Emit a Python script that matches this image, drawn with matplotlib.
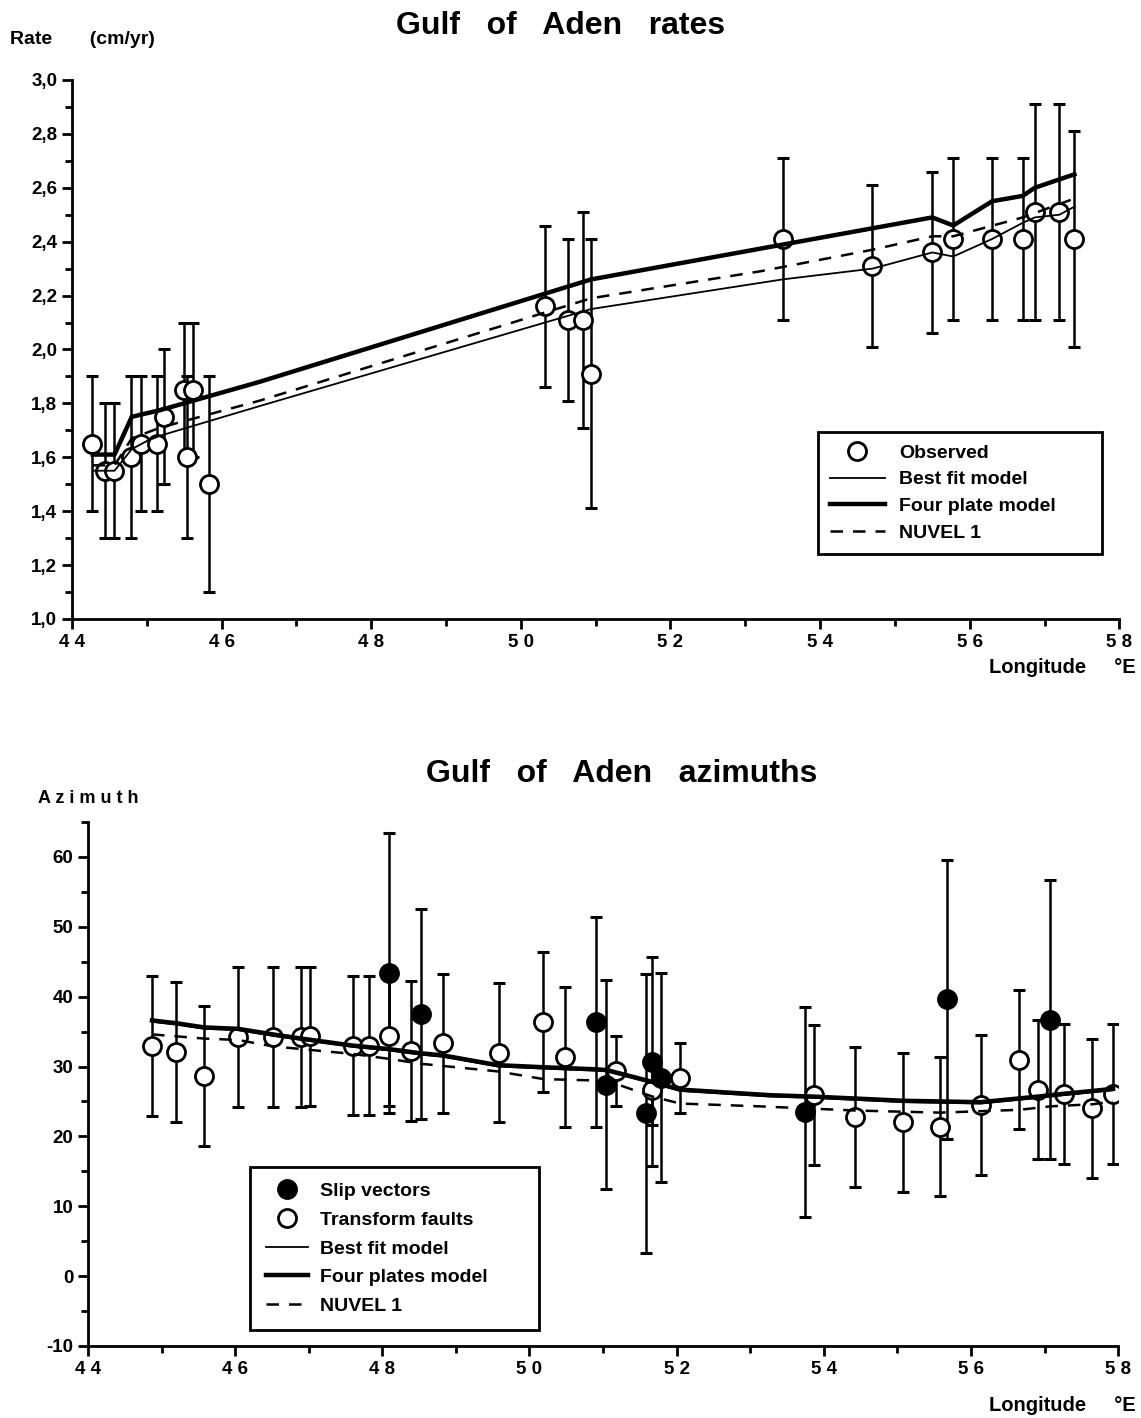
import matplotlib
matplotlib.use("Agg")
import matplotlib.pyplot as plt
from matplotlib.lines import Line2D
from matplotlib.ticker import MultipleLocator

plt.rcParams['font.family'] = ['Liberation Sans', 'DejaVu Sans']
plt.rcParams['font.weight'] = 'bold'

# --- rates (top panel) ---
obs_lon = [44.27, 44.44, 44.56, 44.79, 44.92, 45.14, 45.23, 45.50, 45.54, 45.62, 45.83,
           50.32, 50.63, 50.83, 50.94,
           53.50, 54.70, 55.50, 55.78, 56.30, 56.71, 56.87, 57.20, 57.40]
obs_rate = [1.65, 1.55, 1.55, 1.60, 1.65, 1.65, 1.75, 1.85, 1.60, 1.85, 1.50,
            2.16, 2.11, 2.11, 1.91,
            2.41, 2.31, 2.36, 2.41, 2.41, 2.41, 2.51, 2.51, 2.41]
obs_err = [0.25, 0.25, 0.25, 0.30, 0.25, 0.25, 0.25, 0.25, 0.30, 0.25, 0.40,
           0.30, 0.30, 0.40, 0.50,
           0.30, 0.30, 0.30, 0.30, 0.30, 0.30, 0.40, 0.40, 0.40]

best_lon = [44.28, 44.57, 44.80, 45.00, 45.18, 46.51, 50.94, 53.50, 54.70, 55.50, 55.78,
            56.30, 56.71, 56.87, 57.20, 57.40]
best_rate = [1.55, 1.55, 1.63, 1.66, 1.68, 1.79, 2.15, 2.26, 2.30, 2.36, 2.345,
             2.41, 2.47, 2.49, 2.50, 2.53]

four_lon = [44.28, 44.57, 44.80, 45.18, 46.51, 50.94, 55.50, 55.78, 56.30, 56.71, 56.87, 57.40]
four_rate = [1.61, 1.61, 1.75, 1.775, 1.88, 2.26, 2.49, 2.46, 2.55, 2.57, 2.60, 2.65]

nuvel_lon = [44.28, 44.57, 44.80, 45.18, 46.51, 50.94, 53.20, 54.70, 55.50, 55.78, 56.71, 57.40]
nuvel_rate = [1.57, 1.57, 1.67, 1.71, 1.81, 2.19, 2.29, 2.37, 2.42, 2.42, 2.49, 2.56]

rate_ticks = [1.0, 1.2, 1.4, 1.6, 1.8, 2.0, 2.2, 2.4, 2.6, 2.8, 3.0]
rate_labels = ['1,0', '1,2', '1,4', '1,6', '1,8', '2,0', '2,2', '2,4', '2,6', '2,8', '3,0']
lon_ticks = [44, 46, 48, 50, 52, 54, 56, 58]
lon_labels = ['4 4', '4 6', '4 8', '5 0', '5 2', '5 4', '5 6', '5 8']

# --- azimuths (bottom panel) ---
tf_lon = [44.87, 45.20, 45.58, 46.04, 46.51, 46.90, 47.02, 47.60, 47.82, 48.09, 48.39, 48.82,
          49.59, 50.19, 50.48, 51.18, 51.67, 52.05, 53.86, 54.43, 55.08, 55.58, 56.13,
          56.65, 56.91, 57.26, 57.65, 57.93]
tf_az = [32.9, 32.1, 28.6, 34.2, 34.2, 34.2, 34.3, 33.0, 33.0, 34.4, 32.2, 33.3,
         32.0, 36.4, 31.4, 29.4, 26.6, 28.4, 25.9, 22.8, 22.0, 21.4, 24.5,
         31.0, 26.7, 26.1, 24.0, 26.1]
tf_err = [10, 10, 10, 10, 10, 10, 10, 10, 10, 10, 10, 10,
          10, 10, 10, 5, 5, 5, 10, 10, 10, 10, 10,
          10, 10, 10, 10, 10]

sv_lon = [48.09, 48.52, 50.91, 51.04, 51.59, 51.67, 51.79, 53.75, 55.67, 57.08]
sv_az = [43.4, 37.5, 36.4, 27.4, 23.3, 30.7, 28.4, 23.5, 39.6, 36.7]
sv_err = [20, 15, 15, 15, 20, 15, 15, 15, 20, 20]

four_az_lon = [44.87, 45.20, 45.58, 46.04, 46.51, 46.90, 47.60, 48.09, 48.52, 48.82, 49.57,
               50.19, 50.91, 51.05, 51.67, 52.05, 53.27, 53.86, 55.08, 56.13, 56.91, 57.26, 57.93]
four_az = [36.6, 36.2, 35.6, 35.4, 34.6, 34.0, 33.0, 32.5, 31.9, 31.6, 30.2,
           29.9, 29.6, 29.5, 27.8, 26.7, 25.9, 25.7, 25.1, 24.9, 25.7, 26.1, 26.8]
best_az = [36.4, 36.0, 35.4, 35.2, 34.4, 33.8, 32.8, 32.3, 31.7, 31.4, 30.0,
           29.7, 29.4, 29.3, 27.6, 26.5, 25.7, 25.5, 24.9, 24.7, 25.5, 25.9, 26.6]
nuvel_az_lon = [44.87, 45.58, 46.04, 46.51, 46.90, 47.60, 48.09, 48.52, 49.57, 50.19, 50.91,
                51.18, 51.67, 52.05, 53.13, 54.43, 55.58, 56.65, 57.08, 57.65, 57.93]
nuvel_az = [34.6, 34.0, 33.8, 32.9, 32.5, 31.8, 31.1, 30.4, 29.3, 28.2, 28.0,
            27.5, 25.7, 24.7, 24.3, 23.7, 23.4, 23.8, 24.3, 24.6, 25.0]

az_ticks = [-10, 0, 10, 20, 30, 40, 50, 60]

fig = plt.figure(figsize=(11.41, 14.18), dpi=100)

def style_axes(ax):
    for s in ['top', 'right']:
        ax.spines[s].set_visible(False)
    for s in ['left', 'bottom']:
        ax.spines[s].set_linewidth(2.0)
    ax.tick_params(which='major', direction='out', length=7, width=2.0, labelsize=13.5)
    ax.tick_params(which='minor', direction='out', length=5, width=2.0)
    ax.set_xlim(44, 58)
    ax.set_xticks(lon_ticks)
    ax.set_xticklabels(lon_labels, fontweight='bold')
    ax.xaxis.set_minor_locator(MultipleLocator(1))

# ---------------- top panel ----------------
ax1 = fig.add_axes([0.063, 0.5635, 0.918, 0.3801])
style_axes(ax1)
ax1.set_ylim(1.0, 3.0)
ax1.set_yticks(rate_ticks)
ax1.set_yticklabels(rate_labels, fontweight='bold')
ax1.yaxis.set_minor_locator(MultipleLocator(0.1))

ax1.errorbar(obs_lon, obs_rate, yerr=obs_err, fmt='none', ecolor='black',
             elinewidth=1.8, capsize=4.5, capthick=2.2, zorder=2)
ax1.plot(obs_lon, obs_rate, 'o', ms=13, mfc='white', mec='black', mew=2.0, zorder=3)
ax1.plot(best_lon, best_rate, '-', color='black', lw=1.3, zorder=4)
ax1.plot(four_lon, four_rate, '-', color='black', lw=3.2, zorder=4)
ax1.plot(nuvel_lon, nuvel_rate, '--', color='black', lw=1.8, dashes=(5, 4), zorder=4)

h1 = [Line2D([], [], ls='none', marker='o', ms=13, mfc='white', mec='black', mew=2.0),
      Line2D([], [], color='black', lw=1.3),
      Line2D([], [], color='black', lw=3.2),
      Line2D([], [], color='black', lw=1.8, ls='--', dashes=(5, 4))]
leg1 = ax1.legend(h1, ['Observed', 'Best fit model', 'Four plate model', 'NUVEL 1'],
                  loc='upper left', bbox_to_anchor=(0.7125, 0.0, 0.271, 0.3469), mode='expand',
                  fancybox=False, framealpha=1, edgecolor='black',
                  prop={'weight': 'bold', 'size': 14},
                  handlelength=2.8, handletextpad=0.75, labelspacing=0.47, borderpad=0.62,
                  borderaxespad=0)
leg1.get_frame().set_linewidth(2.0)

fig.text(0.009, 0.972, 'Rate       (cm/yr)', fontsize=14, fontweight='bold', ha='left', va='center')
fig.text(0.491, 0.982, 'Gulf   of   Aden   rates', fontsize=23, fontweight='bold', ha='center', va='center')
fig.text(0.995, 0.529, 'Longitude     °E', fontsize=14.5, fontweight='bold', ha='right', va='center')

# ---------------- bottom panel ----------------
ax2 = fig.add_axes([0.0771, 0.0508, 0.9029, 0.3695])
style_axes(ax2)
ax2.set_ylim(-10, 65)
ax2.set_yticks(az_ticks)
ax2.set_yticklabels([str(t) for t in az_ticks], fontweight='bold')
ax2.yaxis.set_minor_locator(MultipleLocator(5))

ax2.errorbar(tf_lon, tf_az, yerr=tf_err, fmt='none', ecolor='black',
             elinewidth=1.8, capsize=4.5, capthick=2.2, zorder=2)
ax2.errorbar(sv_lon, sv_az, yerr=sv_err, fmt='none', ecolor='black',
             elinewidth=1.8, capsize=4.5, capthick=2.2, zorder=2)
ax2.plot(tf_lon, tf_az, 'o', ms=13, mfc='white', mec='black', mew=2.0, zorder=3)
ax2.plot(sv_lon, sv_az, 'o', ms=13, mfc='black', mec='black', mew=2.0, zorder=3)
ax2.plot(four_az_lon, best_az, '-', color='black', lw=1.3, zorder=4)
ax2.plot(four_az_lon, four_az, '-', color='black', lw=3.2, zorder=4)
ax2.plot(nuvel_az_lon, nuvel_az, '--', color='black', lw=1.8, dashes=(5, 4), zorder=4)

h2 = [Line2D([], [], ls='none', marker='o', ms=13, mfc='black', mec='black', mew=2.0),
      Line2D([], [], ls='none', marker='o', ms=13, mfc='white', mec='black', mew=2.0),
      Line2D([], [], color='black', lw=1.3),
      Line2D([], [], color='black', lw=3.2),
      Line2D([], [], color='black', lw=1.8, ls='--', dashes=(5, 4))]
leg2 = ax2.legend(h2, ['Slip vectors', 'Transform faults', 'Best fit model',
                       'Four plates model', 'NUVEL 1'],
                  loc='upper left', bbox_to_anchor=(0.1573, 0.0, 0.2806, 0.3416), mode='expand',
                  fancybox=False, framealpha=1, edgecolor='black',
                  prop={'weight': 'bold', 'size': 14},
                  handlelength=2.2, handletextpad=0.6, labelspacing=0.57, borderpad=0.8,
                  borderaxespad=0)
leg2.get_frame().set_linewidth(2.0)

fig.text(0.033, 0.437, 'A z i m u t h', fontsize=13, fontweight='bold', ha='left', va='center')
fig.text(0.545, 0.454, 'Gulf   of   Aden   azimuths', fontsize=23, fontweight='bold', ha='center', va='center')
fig.text(0.995, 0.009, 'Longitude     °E', fontsize=14.5, fontweight='bold', ha='right', va='center')

fig.savefig('out.png', dpi=100)
